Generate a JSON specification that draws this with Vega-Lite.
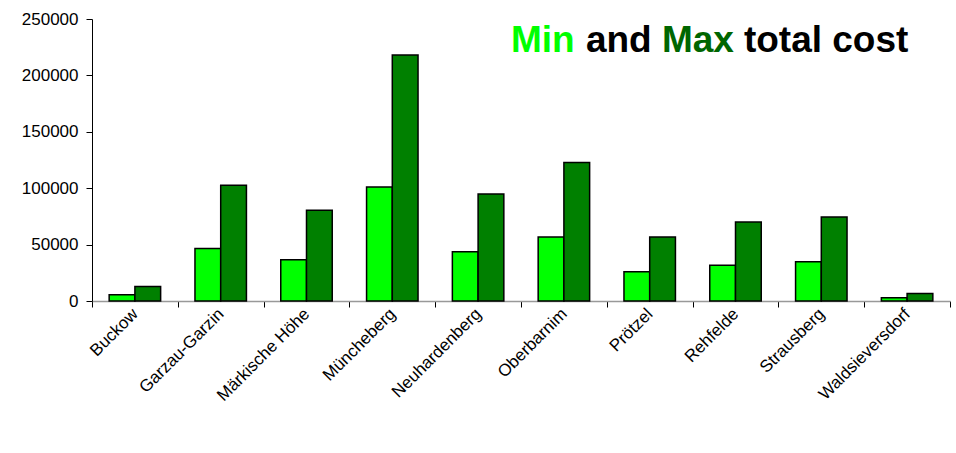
{
  "$schema": "https://vega.github.io/schema/vega-lite/v6.json",
  "autosize": {"type": "none"},
  "padding": {"left": 92, "top": 19, "right": 6, "bottom": 152},
  "width": 858,
  "height": 282,
  "background": "white",
  "config": {"view": {"stroke": null}, "font": "Liberation Sans"},
  "datasets": {
    "costs": [
      {"municipality": "Buckow", "kind": "Min", "cost": 5500},
      {"municipality": "Buckow", "kind": "Max", "cost": 12900},
      {"municipality": "Garzau-Garzin", "kind": "Min", "cost": 46600},
      {"municipality": "Garzau-Garzin", "kind": "Max", "cost": 102600},
      {"municipality": "Märkische Höhe", "kind": "Min", "cost": 36600},
      {"municipality": "Märkische Höhe", "kind": "Max", "cost": 80400},
      {"municipality": "Müncheberg", "kind": "Min", "cost": 101100},
      {"municipality": "Müncheberg", "kind": "Max", "cost": 218000},
      {"municipality": "Neuhardenberg", "kind": "Min", "cost": 43700},
      {"municipality": "Neuhardenberg", "kind": "Max", "cost": 94900},
      {"municipality": "Oberbarnim", "kind": "Min", "cost": 56700},
      {"municipality": "Oberbarnim", "kind": "Max", "cost": 122800},
      {"municipality": "Prötzel", "kind": "Min", "cost": 25900},
      {"municipality": "Prötzel", "kind": "Max", "cost": 56700},
      {"municipality": "Rehfelde", "kind": "Min", "cost": 31800},
      {"municipality": "Rehfelde", "kind": "Max", "cost": 70000},
      {"municipality": "Strausberg", "kind": "Min", "cost": 34800},
      {"municipality": "Strausberg", "kind": "Max", "cost": 74400},
      {"municipality": "Waldsieversdorf", "kind": "Min", "cost": 2800},
      {"municipality": "Waldsieversdorf", "kind": "Max", "cost": 6700}
    ]
  },
  "layer": [
    {
      "data": {"name": "costs"},
      "mark": {"type": "bar", "stroke": "black", "strokeWidth": 1.5},
      "encoding": {
        "x": {
          "field": "municipality",
          "type": "nominal",
          "sort": null,
          "scale": {"paddingInner": 0, "paddingOuter": 0},
          "axis": {
            "title": null,
            "labelAngle": -45,
            "labelAlign": "right",
            "labelBaseline": "middle",
            "labelFontSize": 17,
            "labelColor": "black",
            "labelPadding": 4,
            "tickBand": "extent",
            "tickSize": 6,
            "tickColor": "black",
            "domainColor": "#999999",
            "domainWidth": 1.5
          }
        },
        "xOffset": {
          "field": "kind",
          "type": "nominal",
          "sort": ["Min", "Max"],
          "scale": {"paddingInner": 0, "paddingOuter": 0.667}
        },
        "y": {
          "field": "cost",
          "type": "quantitative",
          "scale": {"domain": [0, 250000], "nice": false},
          "axis": {
            "title": null,
            "values": [0, 50000, 100000, 150000, 200000, 250000],
            "format": "d",
            "grid": false,
            "labelFontSize": 17,
            "labelColor": "black",
            "labelPadding": 8,
            "tickSize": 6,
            "tickColor": "black",
            "domainColor": "black"
          }
        },
        "color": {
          "field": "kind",
          "type": "nominal",
          "scale": {"domain": ["Min", "Max"], "range": ["#00FF00", "#008000"]},
          "legend": null
        }
      }
    },
    {
      "data": {"values": [{"label": "Min"}]},
      "mark": {"type": "text", "align": "left", "baseline": "alphabetic", "fontSize": 37, "fontWeight": "bold", "color": "#00FF00", "dx": -53},
      "encoding": {
        "x": {"datum": "Oberbarnim", "type": "nominal"},
        "y": {"datum": 221000, "type": "quantitative"},
        "text": {"field": "label"}
      }
    },
    {
      "data": {"values": [{"label": "and"}]},
      "mark": {"type": "text", "align": "left", "baseline": "alphabetic", "fontSize": 37, "fontWeight": "bold", "color": "black", "dx": 22},
      "encoding": {
        "x": {"datum": "Oberbarnim", "type": "nominal"},
        "y": {"datum": 221000, "type": "quantitative"},
        "text": {"field": "label"}
      }
    },
    {
      "data": {"values": [{"label": "Max"}]},
      "mark": {"type": "text", "align": "left", "baseline": "alphabetic", "fontSize": 37, "fontWeight": "bold", "color": "#006600", "dx": 98},
      "encoding": {
        "x": {"datum": "Oberbarnim", "type": "nominal"},
        "y": {"datum": 221000, "type": "quantitative"},
        "text": {"field": "label"}
      }
    },
    {
      "data": {"values": [{"label": "total cost"}]},
      "mark": {"type": "text", "align": "left", "baseline": "alphabetic", "fontSize": 37, "fontWeight": "bold", "color": "black", "dx": 180},
      "encoding": {
        "x": {"datum": "Oberbarnim", "type": "nominal"},
        "y": {"datum": 221000, "type": "quantitative"},
        "text": {"field": "label"}
      }
    }
  ]
}
